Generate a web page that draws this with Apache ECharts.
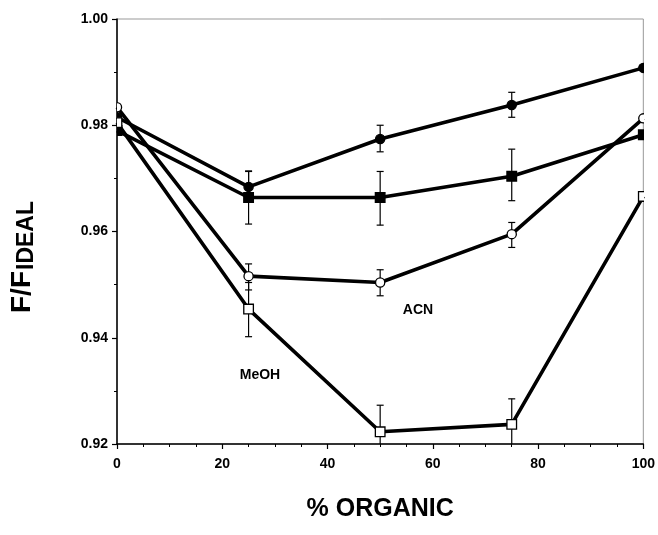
<!DOCTYPE html>
<html><head><meta charset="utf-8">
<script src="https://cdn.jsdelivr.net/npm/echarts@6/dist/echarts.min.js"></script>
<style>html,body{margin:0;padding:0;background:#fff}#c{width:658px;height:535px}</style>
</head><body><div id="c"></div>
<script>
var xValues = [0, 25, 50, 75, 100];
var xTicks = [0, 20, 40, 60, 80, 100];
var yTicks = [0.92, 0.94, 0.96, 0.98, 1.00];

var filledCircle = [0.9815, 0.9684, 0.9774, 0.9838, 0.9908];
var filledCircleLo = [null, 0.9655, 0.9750, 0.9815, null];
var filledCircleHi = [null, 0.9713, 0.9800, 0.9862, null];

var filledSquare = [0.9790, 0.9664, 0.9664, 0.9704, 0.9782];
var filledSquareLo = [null, 0.9614, 0.9612, 0.9658, null];
var filledSquareHi = [null, 0.9714, 0.9713, 0.9755, null];

var openCircle = [0.9834, 0.9516, 0.9504, 0.9595, 0.9813];
var openCircleLo = [null, 0.9490, 0.9479, 0.9570, null];
var openCircleHi = [null, 0.9539, 0.9528, 0.9617, null];

var openSquare = [0.9805, 0.9454, 0.9223, 0.9237, 0.9666];
var openSquareLo = [null, 0.9402, 0.9173, 0.9189, null];
var openSquareHi = [null, 0.9504, 0.9273, 0.9285, null];

var FONT = 'Liberation Sans, Arial, sans-serif';

function pairs(vals){ return xValues.map(function(x,i){ return [x, vals[i]]; }); }
function errData(lo, hi){
  var d = [];
  xValues.forEach(function(x,i){ if (lo[i] != null) d.push([x, lo[i], hi[i]]); });
  return d;
}
function lineSeries(vals){
  return { type:'line', data:pairs(vals), showSymbol:false, symbol:'none', clip:true,
    lineStyle:{color:'#000', width:3.6}, z:2, animation:false };
}
function errSeries(lo, hi){
  return { type:'custom', data:errData(lo,hi), clip:true, z:1, animation:false,
    renderItem:function(params, api){
      var x = api.value(0), a = api.coord([x, api.value(1)]), b = api.coord([x, api.value(2)]);
      var w = 3.5;
      var st = {stroke:'#000', lineWidth:1.2};
      return {type:'group', children:[
        {type:'line', shape:{x1:a[0],y1:a[1],x2:b[0],y2:b[1]}, style:st},
        {type:'line', shape:{x1:a[0]-w,y1:a[1],x2:a[0]+w,y2:a[1]}, style:st},
        {type:'line', shape:{x1:b[0]-w,y1:b[1],x2:b[0]+w,y2:b[1]}, style:st}
      ]};
    }};
}
function markerSeries(vals, shape, filled){
  return { type:'custom', data:pairs(vals), clip:true, z:3, animation:false,
    renderItem:function(params, api){
      var p = api.coord([api.value(0), api.value(1)]);
      var st = {fill: filled ? '#000' : '#fff', stroke:'#000', lineWidth:1.3};
      if (shape === 'circle') {
        return {type:'circle', shape:{cx:p[0], cy:p[1], r:4.6}, style:st};
      }
      return {type:'rect', shape:{x:p[0]-4.8, y:p[1]-4.8, width:9.6, height:9.6}, style:st};
    }};
}

var chart = echarts.init(document.getElementById('c'), null, {renderer:'canvas'});
chart.setOption({
  animation:false,
  backgroundColor:'#fff',
  grid:{left:117, right:11, top:19, bottom:91, show:true, borderColor:'#999', borderWidth:1, backgroundColor:'transparent'},
  xAxis:{type:'value', min:xTicks[0], max:xTicks[xTicks.length-1], interval:20,
    axisLine:{show:true, onZero:false, lineStyle:{color:'#000', width:1.5}},
    axisTick:{show:true, inside:false, length:5, lineStyle:{color:'#000', width:1.2}},
    minorTick:{show:true, splitNumber:4, length:3, lineStyle:{color:'#000', width:1}},
    splitLine:{show:false},
    axisLabel:{color:'#000', fontFamily:FONT, fontWeight:'bold', fontSize:14, margin:13},
    name:'% ORGANIC', nameLocation:'middle', nameGap:53,
    nameTextStyle:{color:'#000', fontFamily:FONT, fontWeight:'bold', fontSize:25}
  },
  yAxis:{type:'value', min:yTicks[0], max:yTicks[yTicks.length-1], interval:0.02,
    axisLine:{show:true, onZero:false, lineStyle:{color:'#000', width:1.5}},
    axisTick:{show:true, inside:false, length:5, lineStyle:{color:'#000', width:1.2}},
    minorTick:{show:true, splitNumber:2, length:3, lineStyle:{color:'#000', width:1}},
    splitLine:{show:false},
    axisLabel:{color:'#000', fontFamily:FONT, fontWeight:'bold', fontSize:14, margin:9,
      formatter:function(v){ return v.toFixed(2); }}
  },
  graphic:[
    {type:'text', x:22, y:313, rotation:Math.PI/2,
      style:{text:'F/F', fill:'#000', font:'bold 28px ' + FONT, textAlign:'left', textVerticalAlign:'middle'}},
    {type:'text', x:27, y:270, rotation:Math.PI/2,
      style:{text:'IDEAL', fill:'#000', font:'bold 23px ' + FONT, textAlign:'left', textVerticalAlign:'middle'}},
    {type:'text', x:418, y:310,
      style:{text:'ACN', fill:'#000', font:'bold 14px ' + FONT, textAlign:'center', textVerticalAlign:'middle'}},
    {type:'text', x:260, y:375,
      style:{text:'MeOH', fill:'#000', font:'bold 14px ' + FONT, textAlign:'center', textVerticalAlign:'middle'}}
  ],
  series:[
    errSeries(filledCircleLo, filledCircleHi),
    errSeries(filledSquareLo, filledSquareHi),
    errSeries(openCircleLo, openCircleHi),
    errSeries(openSquareLo, openSquareHi),
    lineSeries(filledCircle),
    lineSeries(filledSquare),
    lineSeries(openCircle),
    lineSeries(openSquare),
    markerSeries(filledCircle, 'circle', true),
    markerSeries(filledSquare, 'rect', true),
    markerSeries(openCircle, 'circle', false),
    markerSeries(openSquare, 'rect', false)
  ]
});
</script></body></html>
